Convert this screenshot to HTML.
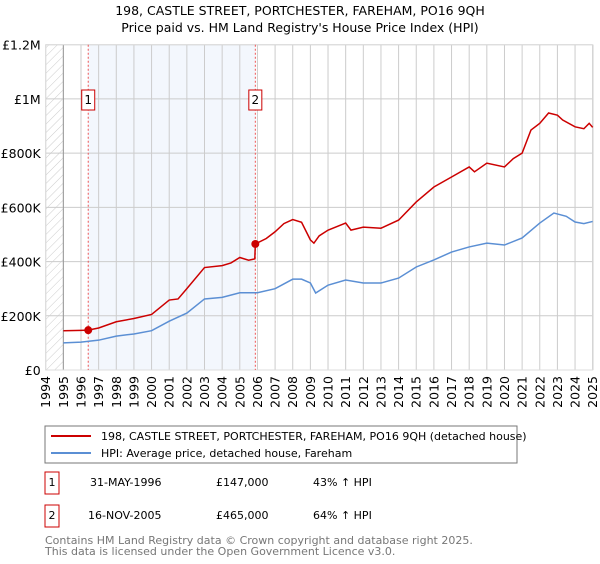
<!DOCTYPE html>
<html><head><meta charset="utf-8"><style>
body{margin:0;background:#fff;font-family:"DejaVu Sans","Liberation Sans",sans-serif;}
svg text{font-family:"DejaVu Sans","Liberation Sans",sans-serif;}
</style></head><body>
<svg id="c" width="600" height="560" xmlns="http://www.w3.org/2000/svg">
<defs><pattern id="hatch" width="6" height="6" patternUnits="userSpaceOnUse" patternTransform="rotate(45)"><line x1="0" y1="0" x2="0" y2="6" stroke="#ccc" stroke-width="1"/></pattern></defs>
<text x="300" y="15" text-anchor="middle" font-size="12.5" fill="#000">198, CASTLE STREET, PORTCHESTER, FAREHAM, PO16 9QH</text>
<text x="300" y="32" text-anchor="middle" font-size="12.5" fill="#000">Price paid vs. HM Land Registry's House Price Index (HPI)</text>
<g id="plot"></g>
<g>
<rect x="45" y="426" width="472" height="37" fill="#fff" stroke="#777"/>
<line x1="51" y1="436" x2="91" y2="436" stroke="#cc0000" stroke-width="2"/>
<text x="101" y="440" font-size="11">198, CASTLE STREET, PORTCHESTER, FAREHAM, PO16 9QH (detached house)</text>
<line x1="51" y1="453" x2="91" y2="453" stroke="#5b8fd4" stroke-width="2"/>
<text x="101" y="457" font-size="11">HPI: Average price, detached house, Fareham</text>
</g>
<g font-size="11">
<rect x="45" y="472" width="14" height="22" fill="none" stroke="#cc0000"/>
<text x="52" y="486" text-anchor="middle">1</text>
<text x="90" y="486">31-MAY-1996</text><text x="216" y="486">£147,000</text><text x="313" y="486">43% ↑ HPI</text>
<rect x="45" y="505" width="14" height="22" fill="none" stroke="#cc0000"/>
<text x="52" y="519" text-anchor="middle">2</text>
<text x="88" y="519">16-NOV-2005</text><text x="216" y="519">£465,000</text><text x="313" y="519">64% ↑ HPI</text>
</g>
<text x="45" y="544" font-size="11" fill="#777">Contains HM Land Registry data © Crown copyright and database right 2025.</text>
<text x="45" y="555" font-size="11" fill="#777">This data is licensed under the Open Government Licence v3.0.</text>
</svg>
<script>
const years=[1995,1996,1996.41,1997,1998,1999,2000,2001,2001.5,2002,2003,2004,2004.5,2005,2005.5,2005.85,2005.88,2006.5,2007,2007.5,2008,2008.5,2009,2009.2,2009.5,2010,2011,2011.3,2012,2013,2014,2015,2016,2017,2018,2018.3,2019,2020,2020.5,2021,2021.5,2022,2022.5,2023,2023.3,2024,2024.5,2024.8,2025];
const priceK=[145,146,147,155,178,190,205,258,262,300,378,385,395,415,405,410,465,485,510,540,555,545,480,468,495,516,542,516,527,523,553,620,675,712,749,731,763,749,780,800,885,910,948,940,922,897,890,910,895];
const hpiYears=[1995,1996,1997,1998,1999,2000,2001,2002,2003,2004,2005,2006,2007,2008,2008.5,2009,2009.3,2010,2011,2012,2013,2014,2015,2016,2017,2018,2019,2020,2021,2022,2022.8,2023.5,2024,2024.5,2025];
const hpiK=[100,103,110,125,133,145,180,210,262,268,285,285,300,335,335,321,284,313,332,321,321,339,380,406,435,454,468,461,487,542,579,567,546,540,548];
const saleYears=[1996.41,2005.88];
const saleK=[147,465];
const yTicks=[0,200,400,600,800,1000,1200];
const yTickLabels=['£0','£200K','£400K','£600K','£800K','£1M','£1.2M'];
const xTicks=[1994,1995,1996,1997,1998,1999,2000,2001,2002,2003,2004,2005,2006,2007,2008,2009,2010,2011,2012,2013,2014,2015,2016,2017,2018,2019,2020,2021,2022,2023,2024,2025];
const L=45.7,R=592.7,T=44.7,B=370;
const x=v=>L+(v-1994)*(R-L)/31;
const y=v=>B-v*(B-T)/1200;
const NS='http://www.w3.org/2000/svg';
const g=document.getElementById('plot');
function mk(t,a,p){const e=document.createElementNS(NS,t);for(const k in a)e.setAttribute(k,a[k]);(p||g).appendChild(e);return e;}
mk('rect',{x:x(1996.41),y:T,width:x(2005.88)-x(1996.41),height:B-T,fill:'#eef3fc',opacity:0.7});
mk('rect',{x:L,y:T,width:x(1995)-L,height:B-T,fill:'url(#hatch)'});
yTicks.forEach((v,i)=>{
 const l=mk('line',{x1:L,x2:R,y1:y(v),y2:y(v),stroke:'#ccc'});
 
 
 const t=mk('text',{x:L-5,y:y(v)+5,'text-anchor':'end','font-size':'12.5'});t.textContent=yTickLabels[i];
 
 
});
xTicks.forEach(v=>{
 const l=mk('line',{x1:x(v),x2:x(v),y1:T,y2:B,stroke:'#ccc'});
 
 
 const t=mk('text',{x:0,y:0,'text-anchor':'end','font-size':'12.5',transform:`translate(${x(v)+4.5},${B+6}) rotate(-90)`});t.textContent=v;
 
 
});
mk('line',{x1:x(1995),x2:x(1995),y1:T,y2:B,stroke:'#999'});
mk('line',{x1:R,x2:R,y1:T,y2:B,stroke:'#999'});
mk('rect',{x:L,y:T,width:R-L,height:B-T,fill:'none',stroke:'#ddd'});
saleYears.forEach((v,i)=>{
 const l=mk('line',{x1:x(v),x2:x(v),y1:T,y2:B,stroke:'#ee5555','stroke-dasharray':'2,2'});
 
 
 mk('rect',{x:x(v)-6.5,y:90,width:13,height:20,fill:'#fff',stroke:'#cc0000'});
 const t=mk('text',{x:x(v),y:104,'text-anchor':'middle','font-size':'12'});t.textContent=i+1;
 
 
});
const hp=mk('polyline',{points:hpiYears.map((v,i)=>x(v)+','+y(hpiK[i])).join(' '),fill:'none',stroke:'#5b8fd4','stroke-width':1.5});


const pp=mk('polyline',{points:years.map((v,i)=>x(v)+','+y(priceK[i])).join(' '),fill:'none',stroke:'#cc0000','stroke-width':1.5});


saleYears.forEach((v,i)=>{
 const c=mk('circle',{cx:x(v),cy:y(saleK[i]),r:4,fill:'#cc0000'});
 
 
});
</script>
</body></html>
